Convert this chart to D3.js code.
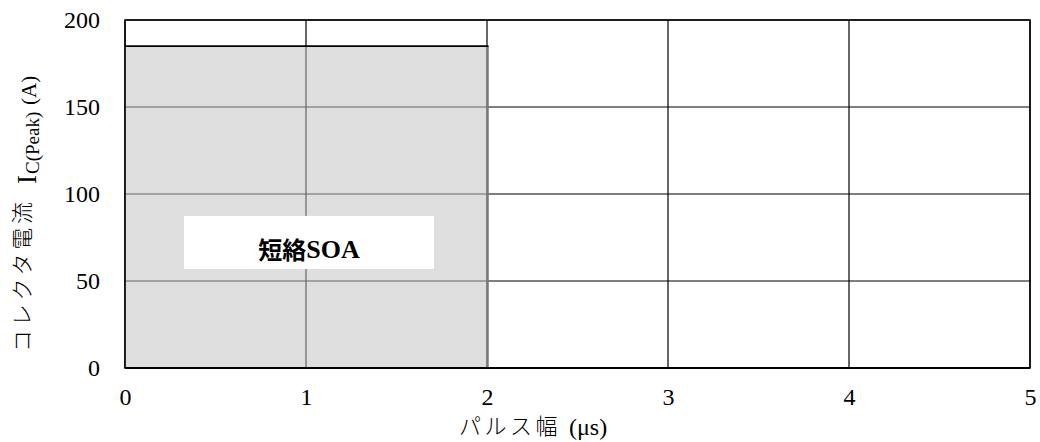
<!DOCTYPE html>
<html><head><meta charset="utf-8">
<script src="https://cdn.jsdelivr.net/npm/d3@7"></script>
<style>body{margin:0;background:#fff}svg{display:block}</style>
</head><body>
<svg id="c" width="1040" height="442"></svg>
<script>
const xTicks = [0, 1, 2, 3, 4, 5];
const yTicks = [0, 50, 100, 150, 200];
const soaRegion = [{x0: 0, x1: 2, y0: 0, y1: 185}];
const labelBox = [{x0: 0.326, x1: 1.707, y0: 56.9, y1: 87.4, cjk: "短絡", latin: "SOA"}];
const xTitle = {cjk: "パルス幅", latin: "(μs)"};
const yTitle = {cjk: "コレクタ電流", main: "I", sub: "C(Peak)", unit: "(A)"};

const SERIF = '"Liberation Serif"';
const CJK = '"Noto Sans CJK JP"';

const svg = d3.select("#c");
const M = {l: 125, r: 1030, t: 20, b: 368};
const x = d3.scaleLinear().domain([0, 5]).range([M.l, M.r]);
const y = d3.scaleLinear().domain([0, 200]).range([M.b, M.t]);

// gridlines
const g = svg.append("g");
g.selectAll(".vx").data(xTicks).enter().append("line")
  .attr("x1", d => x(d)).attr("x2", d => x(d)).attr("y1", M.t).attr("y2", M.b)
  .attr("stroke", "#000").attr("stroke-width", 1.2);
g.selectAll(".hy").data(yTicks).enter().append("line")
  .attr("x1", M.l).attr("x2", M.r).attr("y1", d => y(d)).attr("y2", d => y(d))
  .attr("stroke", "#000").attr("stroke-width", 1.2);

// SOA region
soaRegion.forEach(r => {
  svg.append("rect")
    .attr("x", x(r.x0)).attr("y", y(r.y1))
    .attr("width", x(r.x1) - x(r.x0)).attr("height", y(r.y0) - y(r.y1))
    .attr("fill", "rgb(192,192,192)").attr("fill-opacity", 0.53);
  svg.append("line")
    .attr("x1", x(r.x1) + 0.5).attr("x2", x(r.x1) + 0.5).attr("y1", y(r.y1)).attr("y2", y(r.y0))
    .attr("stroke", "#7a7a7a").attr("stroke-width", 2.5);
  svg.append("line")
    .attr("x1", x(r.x0)).attr("x2", x(r.x1) + 1.5).attr("y1", y(r.y1)).attr("y2", y(r.y1))
    .attr("stroke", "#000").attr("stroke-width", 1.6);
});

// frame
svg.append("rect").attr("x", M.l).attr("y", M.t).attr("width", M.r - M.l).attr("height", M.b - M.t)
  .attr("fill", "none").attr("stroke", "#000").attr("stroke-width", 1.5);
svg.append("line").attr("x1", M.l).attr("x2", M.r).attr("y1", M.b).attr("y2", M.b)
  .attr("stroke", "#000").attr("stroke-width", 2);

// label box
labelBox.forEach(b => {
  svg.append("rect").attr("x", x(b.x0)).attr("y", y(b.y1))
    .attr("width", x(b.x1) - x(b.x0)).attr("height", y(b.y0) - y(b.y1)).attr("fill", "#fff");
  const t = svg.append("text").attr("x", (x(b.x0) + x(b.x1)) / 2).attr("y", y(b.y0) - 11)
    .attr("text-anchor", "middle").style("font-weight", "bold").attr("fill", "#000");
  t.append("tspan").style("font-family", CJK).style("font-size", "24px").attr("dy", 1).text(b.cjk);
  t.append("tspan").style("font-family", SERIF).style("font-size", "26px").attr("dy", -1).text(b.latin);
});

// axes tick labels
const xAxis = d3.axisBottom(x).tickValues(xTicks).tickSize(0).tickPadding(20).tickFormat(d3.format("d"));
const xa = svg.append("g").attr("transform", `translate(0,${M.b})`).call(xAxis);
xa.select(".domain").remove();
xa.selectAll("text").style("font-family", SERIF).style("font-size", "24px").attr("fill", "#000");

const yAxis = d3.axisLeft(y).tickValues(yTicks).tickSize(0).tickPadding(25).tickFormat(d3.format("d"));
const ya = svg.append("g").attr("transform", `translate(${M.l},0)`).call(yAxis);
ya.select(".domain").remove();
ya.selectAll("text").style("font-family", SERIF).style("font-size", "24px").attr("fill", "#000");

// x title
const xt = svg.append("g").attr("fill", "#000");
xt.append("text").attr("x", 459).attr("y", 434).style("font-family", CJK).style("font-weight", "300")
  .style("font-size", "22px").style("letter-spacing", "3.5px").text(xTitle.cjk);
xt.append("text").attr("x", 569).attr("y", 435).style("font-family", SERIF)
  .style("font-size", "24px").text(xTitle.latin);

// y title (rotated; text x = -screenY, text y = screenX)
const yt = svg.append("g").attr("transform", "rotate(-90)").attr("fill", "#000");
yt.append("text").attr("x", -352).attr("y", 30).style("font-family", CJK).style("font-weight", "300")
  .style("font-size", "22px").style("letter-spacing", "3.8px").text(yTitle.cjk);
yt.append("text").attr("x", -184).attr("y", 36).style("font-family", SERIF)
  .style("font-size", "27px").text(yTitle.main);
yt.append("text").attr("x", -174).attr("y", 39).style("font-family", SERIF)
  .style("font-size", "19px").text(yTitle.sub);
yt.append("text").attr("x", -105).attr("y", 36).style("font-family", SERIF)
  .style("font-size", "21px").text(yTitle.unit);
</script>
</body></html>
